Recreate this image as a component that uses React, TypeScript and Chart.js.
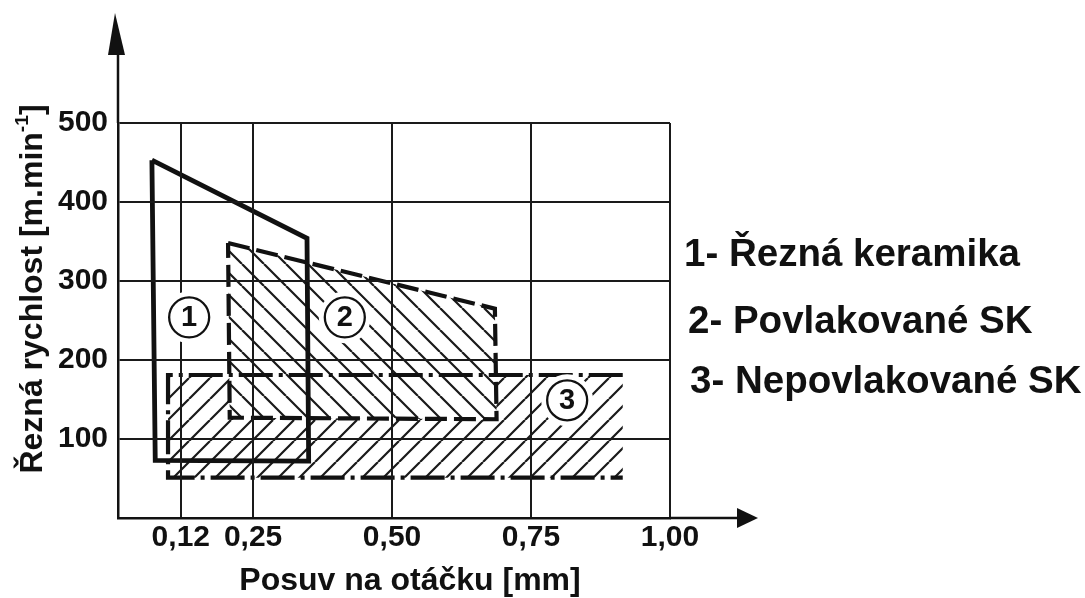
import React, { useEffect, useRef } from "react";
import { Chart, registerables } from "chart.js";

Chart.register(...registerables);

// ---- data ----
const xTickValues = [0.12, 0.25, 0.5, 0.75, 1.0];
const xTickLabels = ["0,12", "0,25", "0,50", "0,75", "1,00"];
const yTickValues = [100, 200, 300, 400, 500];
const yTickLabels = ["100", "200", "300", "400", "500"];

const seriesNames = ["1- Řezná keramika", "2- Povlakované SK", "3- Nepovlakované SK"];

// 1 - cutting ceramics (solid outline)
const ceramicFeed = [0.068, 0.347, 0.35, 0.074, 0.068];
const ceramicSpeed = [453, 354, 72, 73, 453];
// 2 - coated cemented carbide (dashed, hatched)
const coatedFeed = [0.205, 0.685, 0.688, 0.208, 0.205];
const coatedSpeed = [348, 265, 125, 127, 348];
// 3 - uncoated cemented carbide (dash-dot, hatched, open on the right)
const uncoatedFeed = [0.915, 0.097, 0.097, 0.915];
const uncoatedSpeed = [181, 181, 51, 51];

// circled region markers
const markerIds = ["1", "2", "3"];
const markerFeed = [0.135, 0.415, 0.815];
const markerSpeed = [254, 254, 149];

const xTitle = "Posuv na otáčku [mm]";
const yTitleMain = "Řezná rychlost [m.min";
const yTitleSup = "-1";
const yTitleEnd = "]";

const FONT = '"Liberation Sans", Arial, Helvetica, sans-serif';
const INK = "#111";

function makeHatch(size: number, dir: "/" | "\\", bg: string | null, lw: number) {
  const c = document.createElement("canvas");
  c.width = size;
  c.height = size;
  const g = c.getContext("2d")!;
  if (bg) {
    g.fillStyle = bg;
    g.fillRect(0, 0, size, size);
  }
  g.strokeStyle = "#1a1a1a";
  g.lineWidth = lw;
  g.beginPath();
  for (let k = -1; k <= 1; k++) {
    if (dir === "/") {
      g.moveTo(k * size, size);
      g.lineTo(k * size + size, 0);
    } else {
      g.moveTo(k * size, 0);
      g.lineTo(k * size + size, size);
    }
  }
  g.stroke();
  return g.createPattern(c, "repeat")!;
}

const decor = {
  id: "decor",
  afterDraw(chart: any) {
    const { ctx, chartArea } = chart;
    const { left, right, bottom, top } = chartArea;
    ctx.save();
    ctx.strokeStyle = INK;
    ctx.fillStyle = INK;
    ctx.lineWidth = 2.5;
    // y axis extension + arrow
    ctx.beginPath();
    ctx.moveTo(left, top);
    ctx.lineTo(left, 50);
    ctx.stroke();
    ctx.beginPath();
    ctx.moveTo(left - 3, 13);
    ctx.lineTo(left + 7, 55);
    ctx.lineTo(left - 10, 55);
    ctx.closePath();
    ctx.fill();
    // x axis extension + arrow
    ctx.beginPath();
    ctx.moveTo(right, bottom);
    ctx.lineTo(742, bottom);
    ctx.stroke();
    ctx.beginPath();
    ctx.moveTo(758, bottom);
    ctx.lineTo(737, bottom - 10);
    ctx.lineTo(737, bottom + 10);
    ctx.closePath();
    ctx.fill();
    // circled markers
    const xs = chart.scales.x;
    const ys = chart.scales.y;
    markerIds.forEach((id, i) => {
      const cx = xs.getPixelForValue(markerFeed[i]);
      const cy = ys.getPixelForValue(markerSpeed[i]);
      ctx.fillStyle = "#fff";
      ctx.beginPath();
      ctx.arc(cx, cy, 26, 0, Math.PI * 2);
      ctx.fill();
      ctx.strokeStyle = INK;
      ctx.lineWidth = 2.3;
      ctx.beginPath();
      ctx.arc(cx, cy, 20, 0, Math.PI * 2);
      ctx.stroke();
      ctx.fillStyle = INK;
      ctx.font = `bold 29px ${FONT}`;
      ctx.textAlign = "center";
      ctx.textBaseline = "middle";
      ctx.fillText(id, cx, cy + 1);
    });
    ctx.restore();
  },
};

export default function App() {
  const ref = useRef<HTMLCanvasElement>(null);

  useEffect(() => {
    const canvas = ref.current!;
    const hatchCoated = makeHatch(22, "\\", "#ffffff", 2.2);
    const hatchUncoated = makeHatch(21, "/", null, 2.2);
    const pts = (xs: number[], ys: number[]) => xs.map((x, i) => ({ x, y: ys[i] }));
    const tickFont = { family: FONT, size: 30, weight: "bold" as const };

    const chart = new Chart(canvas, {
      type: "line",
      data: {
        datasets: [
          {
            label: seriesNames[0],
            data: pts(ceramicFeed, ceramicSpeed),
            borderColor: INK,
            borderWidth: 4.8,
            fill: false,
            pointRadius: 0,
            tension: 0,
            borderJoinStyle: "miter",
          },
          {
            label: seriesNames[1],
            data: pts(coatedFeed, coatedSpeed),
            borderColor: INK,
            borderWidth: 4.2,
            borderDash: [22, 7],
            fill: "shape",
            backgroundColor: hatchCoated,
            pointRadius: 0,
            tension: 0,
            borderJoinStyle: "miter",
          },
          {
            label: seriesNames[2],
            data: pts(uncoatedFeed, uncoatedSpeed),
            borderColor: INK,
            borderWidth: 4.2,
            borderDash: [34, 6, 4, 6],
            fill: "shape",
            backgroundColor: hatchUncoated,
            pointRadius: 0,
            tension: 0,
            borderJoinStyle: "miter",
          },
        ],
      },
      options: {
        responsive: false,
        animation: false,
        devicePixelRatio: 1,
        events: [],
        layout: { padding: { left: 0, top: 123, right: 415, bottom: 0 } },
        plugins: {
          legend: { display: false },
          tooltip: { enabled: false },
          filler: { drawTime: "beforeDatasetsDraw" },
        },
        scales: {
          x: {
            type: "linear",
            min: 0.007,
            max: 1.0,
            afterBuildTicks: (s: any) => {
              s.ticks = xTickValues.map((v) => ({ value: v }));
            },
            afterFit: (s: any) => {
              s.height = 80;
            },
            ticks: {
              callback: (_v: any, i: number) => xTickLabels[i],
              font: tickFont,
              color: INK,
              padding: 2,
              maxRotation: 0,
              autoSkip: false,
            },
            grid: { color: "#1a1a1a", lineWidth: 2, drawTicks: false, z: 1 },
            border: { color: INK, width: 2.5, z: 1 },
          },
          y: {
            type: "linear",
            min: 0,
            max: 500,
            afterBuildTicks: (s: any) => {
              s.ticks = yTickValues.map((v) => ({ value: v }));
            },
            afterFit: (s: any) => {
              s.width = 118;
            },
            ticks: {
              callback: (_v: any, i: number) => yTickLabels[i],
              font: tickFont,
              color: INK,
              padding: 10,
              autoSkip: false,
            },
            grid: { color: "#1a1a1a", lineWidth: 2, drawTicks: false, z: 1 },
            border: { color: INK, width: 2.5, z: 1 },
          },
        },
      } as any,
      plugins: [decor],
    });
    return () => chart.destroy();
  }, []);

  const textBase: React.CSSProperties = {
    position: "absolute",
    fontFamily: FONT,
    fontWeight: "bold",
    color: INK,
    whiteSpace: "nowrap",
  };

  return (
    <div
      style={{
        position: "fixed",
        left: 0,
        top: 0,
        width: 1085,
        height: 598,
        background: "#fff",
        overflow: "hidden",
      }}
    >
      <canvas ref={ref} width={1085} height={598} style={{ position: "absolute", left: 0, top: 0 }} />
      {seriesNames.map((n, i) => (
        <div
          key={n}
          style={{
            ...textBase,
            left: [684, 688, 690][i],
            top: [234, 301, 361][i],
            fontSize: 38.5,
            lineHeight: "38px",
          }}
        >
          {n}
        </div>
      ))}
      <div
        style={{
          ...textBase,
          left: 210,
          width: 400,
          top: 563,
          fontSize: 32,
          lineHeight: "32px",
          textAlign: "center",
        }}
      >
        {xTitle}
      </div>
      <div
        style={{
          ...textBase,
          left: 31 - 210,
          top: 289 - 16,
          width: 420,
          height: 32,
          fontSize: 32,
          lineHeight: "32px",
          textAlign: "center",
          transform: "rotate(-90deg)",
          transformOrigin: "50% 50%",
        }}
      >
        {yTitleMain}
        <span style={{ fontSize: "0.6em", position: "relative", top: "-0.75em" }}>{yTitleSup}</span>
        {yTitleEnd}
      </div>
    </div>
  );
}
